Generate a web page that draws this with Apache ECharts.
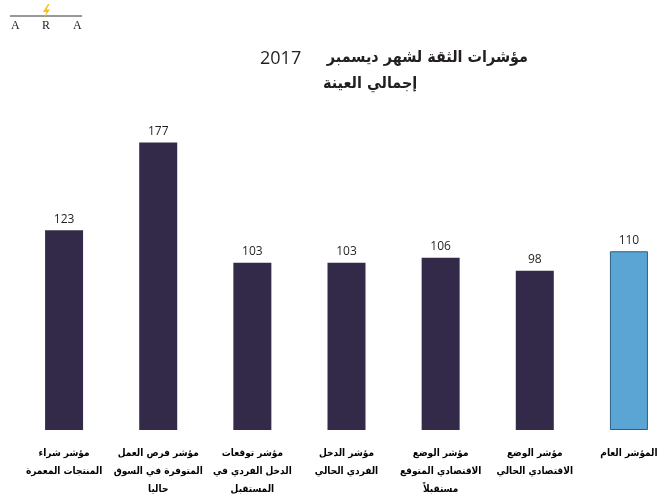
<!DOCTYPE html>
<html>
<head>
<meta charset="utf-8">
<script src="https://cdn.jsdelivr.net/npm/echarts@6/dist/echarts.min.js"></script>
<style>
  html, body { margin: 0; padding: 0; background: #fff; }
  #chart { width: 659px; height: 500px; }
</style>
</head>
<body>
<div id="chart"></div>
<script>
// categories left to right as shown in the picture
const categories = [
  'مؤشر شراء\nالمنتجات المعمرة',
  'مؤشر فرص العمل\nالمتوفرة في السوق\nحاليا',
  'مؤشر توقعات\nالدخل الفردي في\nالمستقبل',
  'مؤشر الدخل\nالفردي الحالي',
  'مؤشر الوضع\nالاقتصادي المتوقع\nمستقبلاً',
  'مؤشر الوضع\nالاقتصادي الحالي',
  'المؤشر العام'
];
const values = [123, 177, 103, 103, 106, 98, 110];

const darkBar = '#332a4a';
const blueBar = '#5aa5d4';
const arabicFont = '"DejaVu Sans Condensed", "DejaVu Sans"';

const chart = echarts.init(document.getElementById('chart'));

chart.setOption({
  animation: false,
  title: [
    { text: '2017', left: 255, top: 45, textStyle: { fontFamily: 'Open Sans', fontSize: 18, fontWeight: 'normal', color: '#231f20' } },
    { text: 'مؤشرات الثقة لشهر ديسمبر', right: 126, top: 45, textStyle: { fontFamily: arabicFont, fontSize: 16, fontWeight: 'bold', color: '#231f20' } },
    { text: 'إجمالي العينة', left: 318, top: 71, textStyle: { fontFamily: arabicFont, fontSize: 16, fontWeight: 'bold', color: '#231f20' } }
  ],
  // ARA logo
  graphic: [
    { type: 'line', shape: { x1: 10, y1: 16, x2: 82, y2: 16 }, style: { stroke: '#333', lineWidth: 1 } },
    { type: 'polygon', shape: { points: [[48, 4], [43, 12], [46.5, 12], [44, 18], [50, 9.5], [46.5, 9.5], [49.5, 4]] }, style: { fill: '#f2c21b' } },
    { type: 'text', left: 11, top: 20, style: { text: 'A', font: '12px "Liberation Serif"', fill: '#222' } },
    { type: 'text', left: 42, top: 20, style: { text: 'R', font: '12px "Liberation Serif"', fill: '#222' } },
    { type: 'text', left: 73, top: 20, style: { text: 'A', font: '12px "Liberation Serif"', fill: '#222' } }
  ],
  grid: { left: 17, right: -17, top: 105, bottom: 70, outerBoundsMode: 'none' },
  xAxis: {
    type: 'category',
    data: categories,
    axisLine: { show: false },
    axisTick: { show: false },
    axisLabel: {
      interval: 0,
      margin: 14,
      fontFamily: arabicFont,
      fontSize: 10,
      fontWeight: 'bold',
      lineHeight: 18,
      color: '#000'
    }
  },
  yAxis: {
    type: 'value',
    min: 0,
    max: 200,
    show: false,
    splitLine: { show: false }
  },
  series: [{
    type: 'bar',
    barWidth: 38,
    data: values.map((v, i) => ({
      value: v,
      itemStyle: i === values.length - 1
        ? { color: blueBar, borderColor: '#2f5f85', borderWidth: 1 }
        : { color: darkBar }
    })),
    label: {
      show: true,
      position: 'top',
      distance: 5,
      fontFamily: 'Open Sans',
      fontSize: 12,
      color: '#231f20'
    }
  }]
});
</script>
</body>
</html>
